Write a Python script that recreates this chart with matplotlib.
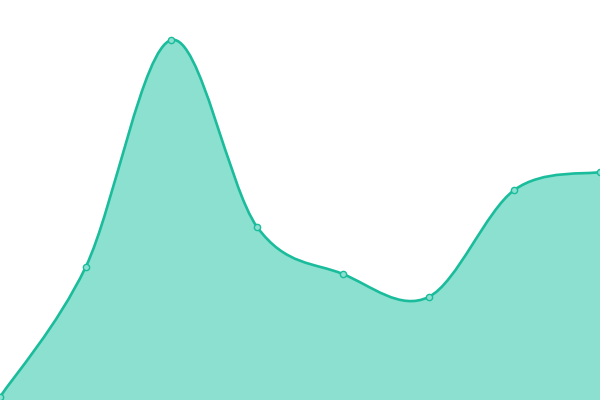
import matplotlib
matplotlib.use("Agg")
import matplotlib.pyplot as plt
import numpy as np
from matplotlib.path import Path
from matplotlib.patches import PathPatch

# data
x_vals = [0, 1, 2, 3, 4, 5, 6, 7]
y_vals = [3, 133, 360, 173, 126, 103, 210, 228]

LINE = "#1abc9c"
FILL = "#8be0cf"


def catmull_rom_path(xs, ys):
    pts = np.column_stack([xs, ys]).astype(float)
    n = len(pts)
    verts = [pts[0]]
    codes = [Path.MOVETO]
    for i in range(n - 1):
        p0 = pts[i - 1] if i > 0 else pts[i]
        p1 = pts[i]
        p2 = pts[i + 1]
        p3 = pts[i + 2] if i + 2 < n else pts[i + 1]
        c1 = p1 + (p2 - p0) / 6.0
        c2 = p2 - (p3 - p1) / 6.0
        verts += [c1, c2, p2]
        codes += [Path.CURVE4] * 3
    return verts, codes


fig = plt.figure(figsize=(6, 4), dpi=100)
ax = fig.add_axes([0, 0, 1, 1])
ax.set_xlim(0, 7)
ax.set_ylim(0, 400)
ax.axis("off")

verts, codes = catmull_rom_path(x_vals, y_vals)

# area under the curve
area_verts = verts + [(x_vals[-1], 0), (x_vals[0], 0), verts[0]]
area_codes = codes + [Path.LINETO, Path.LINETO, Path.CLOSEPOLY]
ax.add_patch(PathPatch(Path(area_verts, area_codes), facecolor=FILL,
                       edgecolor="none", zorder=1))

# line
ax.add_patch(PathPatch(Path(verts, codes), facecolor="none", edgecolor=LINE,
                       linewidth=1.9, zorder=2, capstyle="round"))

ax.plot(x_vals, y_vals, "o", markersize=4.5, markerfacecolor=FILL,
        markeredgecolor=LINE, markeredgewidth=1, zorder=3, clip_on=False)

fig.savefig("out.png", dpi=100)
